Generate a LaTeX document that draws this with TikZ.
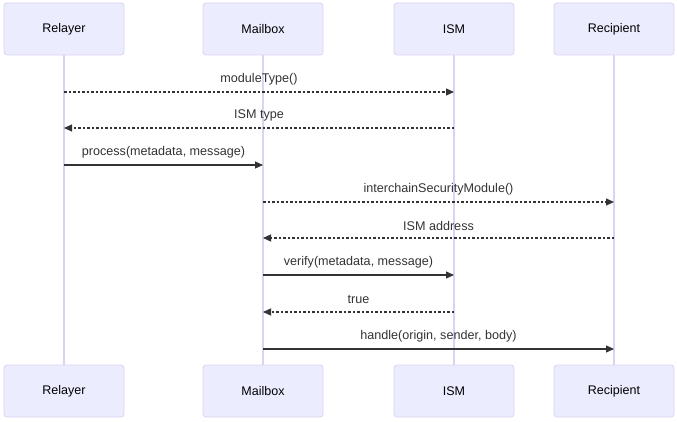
\documentclass[tikz,border=0pt]{standalone}
\usepackage{fontspec}
\setmainfont{Liberation Sans}
\usetikzlibrary{arrows.meta}
\definecolor{actfill}{HTML}{ECECFF}
\definecolor{actline}{HTML}{DCD2F2}
\definecolor{lifel}{HTML}{DCD2F2}
\definecolor{msgc}{HTML}{333333}
\tikzset{
  actor/.style={draw=actline, fill=actfill, line width=0.8pt, rounded corners=3pt,
    minimum width=120pt, minimum height=52pt, inner sep=0pt, font=\fontsize{12.5}{14}\selectfont, text=black},
  life/.style={draw=lifel, line width=1.6pt},
  msg/.style={draw=msgc, line width=1.1pt, -{Triangle[length=8pt,width=7pt]}},
  reply/.style={msg, dash pattern=on 2.5pt off 2pt},
  lbl/.style={font=\fontsize{12.6}{14}\selectfont, text=msgc, inner sep=0pt, yshift=12.5pt}
}
\begin{document}
\begin{tikzpicture}[x=1pt,y=-1pt]
\useasboundingbox (0,0) rectangle (677,422);
% lifelines
\foreach \n/\x in {rl/64, mb/263, is/454, rc/614}{
  \coordinate (\n-t) at (\x,55);
  \coordinate (\n-b) at (\x,365);
  \draw[life] (\n-t) -- (\n-b);
}
% actors
\node[actor] (rlT) at (64,29) {Relayer};
\node[actor] (mbT) at (263,29) {Mailbox};
\node[actor] (isT) at (454,29) {ISM};
\node[actor] (rcT) at (614,29) {Recipient};
\node[actor] (rlB) at (64,391) {Relayer};
\node[actor] (mbB) at (263,391) {Mailbox};
\node[actor] (isB) at (454,391) {ISM};
\node[actor] (rcB) at (614,391) {Recipient};
% message anchors
\foreach \n/\x in {rl/64, mb/263, is/454, rc/614}{
  \foreach \k/\y in {1/92,2/128,3/165,4/202,5/238,6/275,7/312,8/349}{
    \coordinate (\n\k) at (\x,\y);
  }
}
\draw[reply] (rl1) -- node[lbl] {moduleType()} (is1);
\draw[reply] (is2) -- node[lbl] {ISM type} (rl2);
\draw[msg] (rl3) -- node[lbl] {process(metadata, message)} (mb3);
\draw[reply] (mb4) -- node[lbl] {interchainSecurityModule()} (rc4);
\draw[reply] (rc5) -- node[lbl] {ISM address} (mb5);
\draw[msg] (mb6) -- node[lbl] {verify(metadata, message)} (is6);
\draw[reply] (is7) -- node[lbl] {true} (mb7);
\draw[msg] (mb8) -- node[lbl] {handle(origin, sender, body)} (rc8);
\end{tikzpicture}
\end{document}
